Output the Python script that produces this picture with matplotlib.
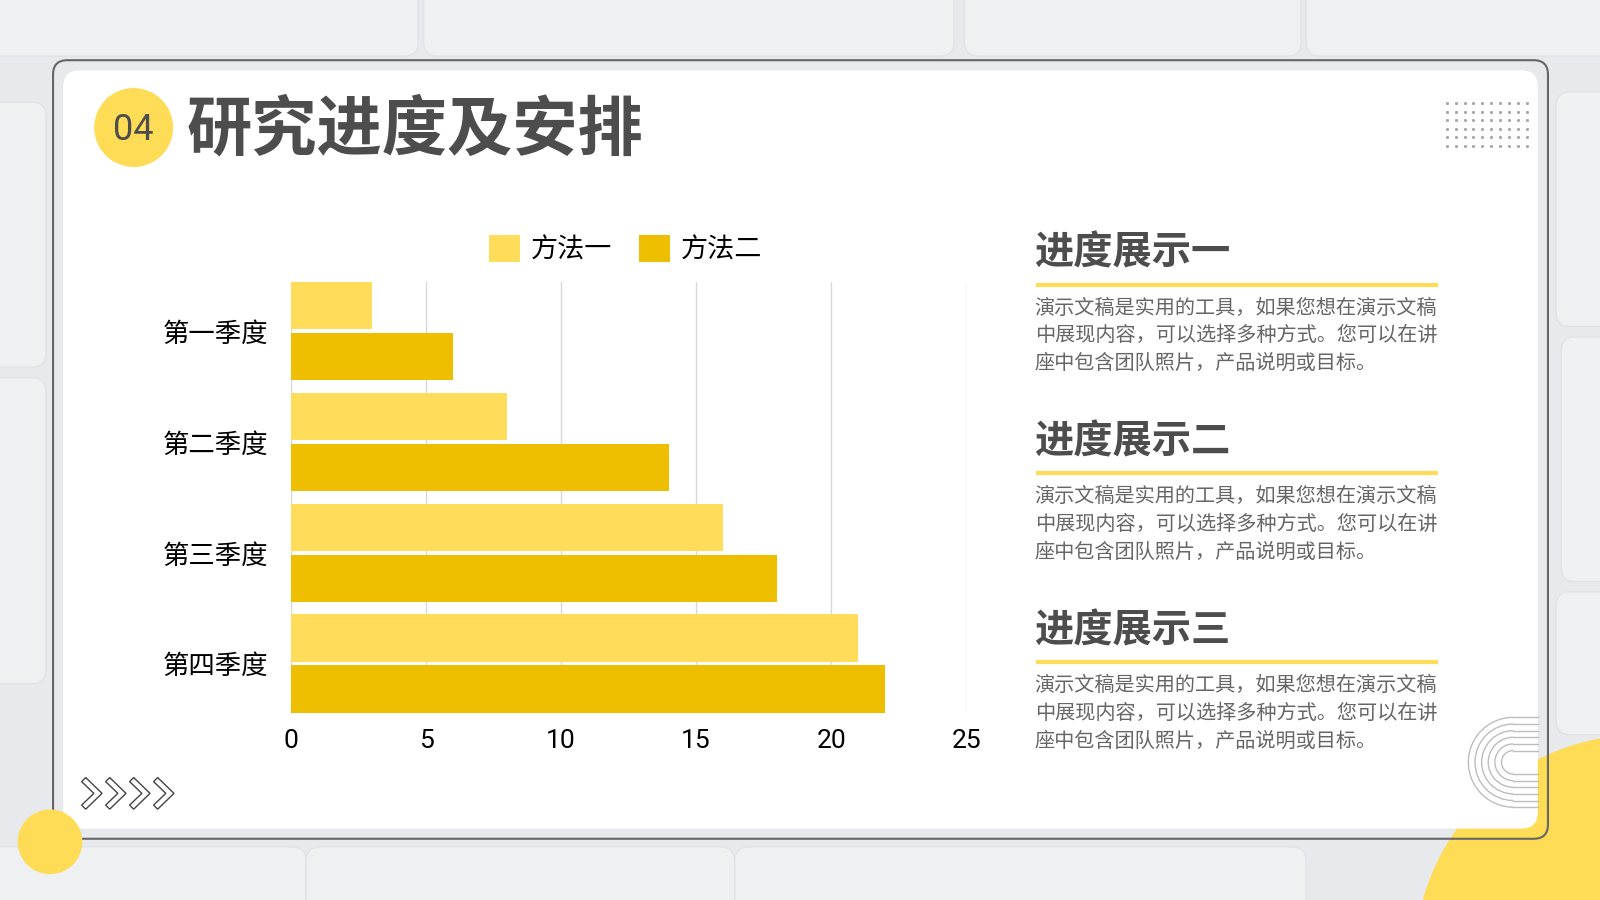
import matplotlib
matplotlib.use("Agg")
import matplotlib.pyplot as plt
from matplotlib.patches import FancyBboxPatch, Circle, Polygon, Rectangle, Arc
import numpy as np

CJK = ['Noto Sans CJK SC', 'DejaVu Sans']
plt.rcParams['font.family'] = CJK

# chart data
quarters = ['第一季度', '第二季度', '第三季度', '第四季度']
method1 = [3, 8, 16, 21]
method2 = [6, 14, 18, 22]
series_names = ['方法一', '方法二']
x_ticks = [0, 5, 10, 15, 20, 25]

# side text
headings = ['进度展示一', '进度展示二', '进度展示三']
para_lines = ['演示文稿是实用的工具，如果您想在演示文稿',
              '中展现内容，可以选择多种方式。您可以在讲',
              '座中包含团队照片，产品说明或目标。']

LIGHT = '#FFDD5B'
DARK = '#EDBF00'
GREY_TXT = '#4d4d4d'

W, H = 1568, 882  # layout units (scaled to 1600x900 output)

fig = plt.figure(figsize=(16, 9), dpi=100)
bg = fig.add_axes([0, 0, 1, 1])
bg.set_xlim(0, W)
bg.set_ylim(H, 0)
bg.axis('off')
bg.add_patch(Rectangle((0, 0), W, H, color='#e7e9ed', zorder=0))

# faint brick texture
for (x0, y0, w, h) in [(-30, -40, 440, 95), (415, -40, 520, 95), (945, -40, 330, 95),
                       (1280, -40, 330, 95), (1525, 90, 80, 230), (1530, 330, 80, 240),
                       (1525, 580, 80, 140), (-40, 830, 340, 80), (300, 830, 420, 80),
                       (720, 830, 560, 80), (-40, 100, 85, 260), (-40, 370, 85, 300)]:
    bg.add_patch(FancyBboxPatch((x0, y0), w, h, boxstyle='round,pad=0,rounding_size=14',
                                facecolor='#eef0f2', edgecolor='#e0e3e7', lw=1.0, zorder=0.5))

# big yellow circle bottom right (behind panel)
bg.add_patch(Circle((1607, 941), 220, color='#FFDC55', zorder=1))

# white panel and outline
bg.add_patch(FancyBboxPatch((62, 69), 1445, 743, boxstyle='round,pad=0,rounding_size=16',
                            facecolor='white', edgecolor='none', zorder=2))
bg.add_patch(FancyBboxPatch((52, 59), 1465, 763, boxstyle='round,pad=0,rounding_size=14',
                            facecolor='none', edgecolor='#666666', lw=1.5, zorder=3))

# small yellow circle bottom left
bg.add_patch(Circle((49, 825), 31, color='#FFDC55', zorder=5))

# chevrons
for k in range(4):
    x0, y0, w, h = 80 + k * 23.5, 762, 20, 31
    pts = [(x0, y0 + 4), (x0 + 4, y0), (x0 + w, y0 + h / 2), (x0 + 4, y0 + h),
           (x0, y0 + h - 4), (x0 + w - 8, y0 + h / 2)]
    bg.add_patch(Polygon(pts, closed=True, facecolor='white', edgecolor='#444444', lw=1, zorder=4))

# dot grid top right
for r in range(6):
    for c in range(10):
        bg.plot(1418 + c * 8.67, 101 + r * 8.4, 's', ms=1.1, color='#a8a8a8', zorder=4)

# nested arcs bottom right
for rad in [11.5, 18, 24.5, 31, 37.5, 44]:
    cx, cy = 1483, 747
    bg.add_patch(Arc((cx, cy), 2 * rad, 2 * rad, theta1=90, theta2=270,
                     color='#bdbdbd', lw=1, zorder=4))
    bg.plot([cx, 1507], [cy - rad, cy - rad], color='#bdbdbd', lw=1, zorder=4)
    bg.plot([cx, 1507], [cy + rad, cy + rad], color='#bdbdbd', lw=1, zorder=4)

# title
bg.add_patch(Circle((131, 125), 38, color='#FFDC55', zorder=4))
bg.text(131, 127, '04', fontsize=26, color=GREY_TXT, ha='center', va='center',
        family=['Roboto', 'DejaVu Sans'], zorder=5)
bg.text(183, 127, '研究进度及安排', fontsize=47, fontweight='bold', color=GREY_TXT,
        ha='left', va='center', family=CJK, zorder=5)

# right text blocks
for i, head in enumerate(headings):
    dy = i * 185
    bg.text(1013, 248 + dy, head, fontsize=28.3, fontweight='bold', color=GREY_TXT,
            ha='left', va='center', family=CJK, zorder=5)
    bg.plot([1015, 1409], [279 + dy, 279 + dy], color='#FFDC55', lw=3, zorder=5,
            solid_capstyle='butt')
    for j, line in enumerate(para_lines):
        bg.text(1014, 302 + dy + j * 27, line, fontsize=14.5, color='#666666',
                ha='left', va='center', family=CJK, zorder=5)

# bar chart
ax = fig.add_axes([285 / W, 1 - 699 / H, (947 - 285) / W, (699 - 276) / H])
ax.set_facecolor('none')
ax.set_zorder(6)
y = np.arange(len(quarters))
b1 = ax.barh(y - 0.23, method1, height=0.43, color=LIGHT, label=series_names[0], zorder=3)
b2 = ax.barh(y + 0.23, method2, height=0.43, color=DARK, label=series_names[1], zorder=3)
ax.set_ylim(3.446, -0.446)
ax.set_xlim(0, 25)
ax.set_xticks(x_ticks)
ax.set_xticklabels([str(t) for t in x_ticks], fontsize=19, color='black',
                   family=['Roboto', 'DejaVu Sans'])
ax.set_yticks(y)
ax.set_yticklabels(quarters, fontsize=19, color='black', family=CJK)
ax.tick_params(axis='both', length=0)
ax.tick_params(axis='x', pad=11)
ax.tick_params(axis='y', pad=16)
ax.grid(axis='x', color='#d9d9d9', lw=1, zorder=0)
for s in ['top', 'right', 'bottom']:
    ax.spines[s].set_visible(False)
ax.spines['left'].set_color('#d9d9d9')

fig.legend(handles=[b1, b2], labels=series_names, loc='center',
           bbox_to_anchor=(613 / W, 1 - 244 / H), ncol=2, frameon=False,
           handlelength=1.15, handleheight=1.15, handletextpad=0.4,
           columnspacing=1.0, prop={'family': CJK, 'size': 19.5})

fig.savefig('out.png', dpi=100)
